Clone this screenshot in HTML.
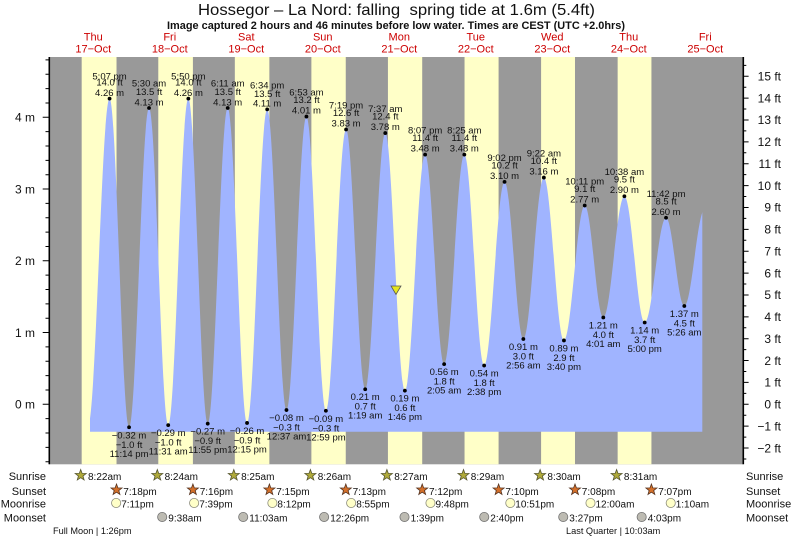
<!DOCTYPE html>
<html><head><meta charset="utf-8"><style>
html,body{margin:0;padding:0;background:#fff;}
svg{display:block;font-family:"Liberation Sans",Arial,sans-serif;}
.l{font-size:9.5px;fill:#111;text-anchor:middle;}
.t{font-size:10px;fill:#111;}
.r{font-size:11px;fill:#111;}
.ax{font-size:12px;fill:#111;}
.d{font-size:11px;fill:#cc0000;text-anchor:middle;}
</style></head><body>
<svg width="793" height="539" viewBox="0 0 793 539" xmlns="http://www.w3.org/2000/svg">
<defs>
<clipPath id="cp"><rect x="90" y="50" width="612.3" height="382"/></clipPath>
<polygon id="star" points="0,-5.8 1.41,-1.94 5.52,-1.79 2.28,0.74 3.41,4.69 0,2.4 -3.41,4.69 -2.28,0.74 -5.52,-1.79 -1.41,-1.94"/>
</defs>
<rect width="793" height="539" fill="#fff"/>
<!-- title -->
<text x="198" y="15" font-size="16" fill="#111" textLength="397" lengthAdjust="spacingAndGlyphs" xml:space="preserve">Hossegor – La Nord: falling  spring tide at 1.6m (5.4ft)</text>
<text x="167" y="29" font-size="11" font-weight="bold" fill="#111" textLength="458" lengthAdjust="spacingAndGlyphs">Image captured 2 hours and 46 minutes before low water. Times are CEST (UTC +2.0hrs)</text>
<!-- day labels -->
<text class="d" x="93.25" y="40.5">Thu</text><text class="d" x="93.25" y="52.5">17−Oct</text>
<text class="d" x="169.75" y="40.5">Fri</text><text class="d" x="169.75" y="52.5">18−Oct</text>
<text class="d" x="246.25" y="40.5">Sat</text><text class="d" x="246.25" y="52.5">19−Oct</text>
<text class="d" x="322.75" y="40.5">Sun</text><text class="d" x="322.75" y="52.5">20−Oct</text>
<text class="d" x="399.25" y="40.5">Mon</text><text class="d" x="399.25" y="52.5">21−Oct</text>
<text class="d" x="475.75" y="40.5">Tue</text><text class="d" x="475.75" y="52.5">22−Oct</text>
<text class="d" x="552.25" y="40.5">Wed</text><text class="d" x="552.25" y="52.5">23−Oct</text>
<text class="d" x="628.75" y="40.5">Thu</text><text class="d" x="628.75" y="52.5">24−Oct</text>
<text class="d" x="705.25" y="40.5">Fri</text><text class="d" x="705.25" y="52.5">25−Oct</text>
<!-- plot background -->
<rect x="49.3" y="57" width="694" height="407.3" fill="#999999"/>
<g fill="#ffffc8">
<rect x="81.67" y="57" width="34.85" height="407.3"/>
<rect x="158.28" y="57" width="34.63" height="407.3"/>
<rect x="234.83" y="57" width="34.53" height="407.3"/>
<rect x="311.38" y="57" width="34.37" height="407.3"/>
<rect x="387.93" y="57" width="34.27" height="407.3"/>
<rect x="464.54" y="57" width="34.05" height="407.3"/>
<rect x="541.09" y="57" width="33.9" height="407.3"/>
<rect x="617.65" y="57" width="33.78" height="407.3"/>
</g>
<!-- tide fill -->
<path clip-path="url(#cp)" fill="#a0b4ff" d="M87.94,425.83
C95.80,425.83 101.70,98.64 109.56,98.64
C116.65,98.64 121.97,427.26 129.06,427.26
C136.32,427.26 141.77,107.97 149.03,107.97
C156.00,107.97 161.24,425.11 168.21,425.11
C175.53,425.11 181.02,98.64 188.34,98.64
C195.39,98.64 200.68,423.67 207.73,423.67
C214.99,423.67 220.45,107.97 227.71,107.97
C234.74,107.97 240.02,422.96 247.05,422.96
C254.37,422.96 259.86,109.41 267.18,109.41
C274.19,109.41 279.46,410.04 286.47,410.04
C293.73,410.04 299.18,116.58 306.44,116.58
C313.50,116.58 318.82,410.76 325.88,410.76
C333.22,410.76 338.73,129.50 346.07,129.50
C353.02,129.50 358.25,389.23 365.20,389.23
C372.50,389.23 377.98,133.08 385.28,133.08
C392.40,133.08 397.76,390.67 404.88,390.67
C412.24,390.67 417.76,154.61 425.12,154.61
C432.03,154.61 437.23,364.12 444.14,364.12
C451.48,364.12 456.99,154.61 464.33,154.61
C471.53,154.61 476.94,365.56 484.14,365.56
C491.55,365.56 497.13,181.87 504.54,181.87
C511.38,181.87 516.51,339.01 523.35,339.01
C530.80,339.01 536.41,177.57 543.86,177.57
C551.16,177.57 556.64,340.44 563.94,340.44
C571.49,340.44 577.16,205.55 584.71,205.55
C591.47,205.55 596.54,317.48 603.30,317.48
C610.96,317.48 616.73,196.22 624.39,196.22
C631.77,196.22 637.31,322.51 644.69,322.51
C652.45,322.51 658.28,217.75 666.04,217.75
C672.68,217.75 677.68,306.00 684.32,306.00
C691.73,306.00 697.31,209.14 704.72,209.14
L704.72,431.7 L87.94,431.7 Z"/>
<!-- axes -->
<line x1="49.3" y1="57" x2="49.3" y2="464.3" stroke="#000" stroke-width="1.6"/>
<line x1="743.3" y1="57" x2="743.3" y2="464.3" stroke="#000" stroke-width="1.6"/>
<path stroke="#000" stroke-width="1" fill="none" d="M45.5,461.7H49.3M45.5,447.35H49.3M45.5,433H49.3M45.5,418.65H49.3M42.7,404.3H49.3M45.5,389.95H49.3M45.5,375.6H49.3M45.5,361.25H49.3M45.5,346.9H49.3M42.7,332.55H49.3M45.5,318.2H49.3M45.5,303.85H49.3M45.5,289.5H49.3M45.5,275.15H49.3M42.7,260.8H49.3M45.5,246.45H49.3M45.5,232.1H49.3M45.5,217.75H49.3M45.5,203.4H49.3M42.7,189.05H49.3M45.5,174.7H49.3M45.5,160.35H49.3M45.5,146H49.3M45.5,131.65H49.3M42.7,117.3H49.3M45.5,102.95H49.3M45.5,88.6H49.3M45.5,74.25H49.3M45.5,59.9H49.3"/>
<path stroke="#000" stroke-width="1" fill="none" d="M743.3,458.99h3M743.3,448.04h5.3M743.3,437.11h3M743.3,426.17h5.3M743.3,415.24h3M743.3,404.3h5.3M743.3,393.37h3M743.3,382.43h5.3M743.3,371.5h3M743.3,360.56h5.3M743.3,349.63h3M743.3,338.69h5.3M743.3,327.76h3M743.3,316.82h5.3M743.3,305.89h3M743.3,294.95h5.3M743.3,284.02h3M743.3,273.08h5.3M743.3,262.15h3M743.3,251.21h5.3M743.3,240.28h3M743.3,229.34h5.3M743.3,218.41h3M743.3,207.47h5.3M743.3,196.54h3M743.3,185.6h5.3M743.3,174.67h3M743.3,163.73h5.3M743.3,152.8h3M743.3,141.86h5.3M743.3,130.93h3M743.3,119.99h5.3M743.3,109.06h3M743.3,98.12h5.3M743.3,87.19h3M743.3,76.25h5.3M743.3,65.32h3"/>
<g class="ax" text-anchor="end">
<text x="35" y="408.5">0 m</text>
<text x="35" y="336.8">1 m</text>
<text x="35" y="265">2 m</text>
<text x="35" y="193.3">3 m</text>
<text x="35" y="121.5">4 m</text>
</g>
<g class="ax" text-anchor="end">
<text x="781" y="80.5">15 ft</text>
<text x="781" y="102.4">14 ft</text>
<text x="781" y="124.2">13 ft</text>
<text x="781" y="146.1">12 ft</text>
<text x="781" y="168">11 ft</text>
<text x="781" y="189.8">10 ft</text>
<text x="781" y="211.7">9 ft</text>
<text x="781" y="233.6">8 ft</text>
<text x="781" y="255.4">7 ft</text>
<text x="781" y="277.3">6 ft</text>
<text x="781" y="299.2">5 ft</text>
<text x="781" y="321">4 ft</text>
<text x="781" y="342.9">3 ft</text>
<text x="781" y="364.8">2 ft</text>
<text x="781" y="386.6">1 ft</text>
<text x="781" y="408.5">0 ft</text>
<text x="781" y="430.4">−1 ft</text>
<text x="781" y="452.3">−2 ft</text>
</g>
<!-- extreme dots -->
<g fill="#000">
<circle cx="109.56" cy="98.64" r="1.9"/><circle cx="149.03" cy="107.97" r="1.9"/><circle cx="188.34" cy="98.64" r="1.9"/><circle cx="227.71" cy="107.97" r="1.9"/><circle cx="267.18" cy="109.41" r="1.9"/><circle cx="306.44" cy="116.58" r="1.9"/><circle cx="346.07" cy="129.5" r="1.9"/><circle cx="385.28" cy="133.08" r="1.9"/><circle cx="425.12" cy="154.61" r="1.9"/><circle cx="464.33" cy="154.61" r="1.9"/><circle cx="504.54" cy="181.87" r="1.9"/><circle cx="543.86" cy="177.57" r="1.9"/><circle cx="584.71" cy="205.55" r="1.9"/><circle cx="624.39" cy="196.22" r="1.9"/><circle cx="666.04" cy="217.75" r="1.9"/>
<circle cx="129.06" cy="427.26" r="1.9"/><circle cx="168.21" cy="425.11" r="1.9"/><circle cx="207.73" cy="423.67" r="1.9"/><circle cx="247.05" cy="422.96" r="1.9"/><circle cx="286.47" cy="410.04" r="1.9"/><circle cx="325.88" cy="410.76" r="1.9"/><circle cx="365.2" cy="389.23" r="1.9"/><circle cx="404.88" cy="390.67" r="1.9"/><circle cx="444.14" cy="364.12" r="1.9"/><circle cx="484.14" cy="365.56" r="1.9"/><circle cx="523.35" cy="339.01" r="1.9"/><circle cx="563.94" cy="340.44" r="1.9"/><circle cx="603.3" cy="317.48" r="1.9"/><circle cx="644.69" cy="322.51" r="1.9"/><circle cx="684.32" cy="306" r="1.9"/>
</g>
<!-- high labels -->
<g class="l">
<text x="109.56" y="79.6">5:07 pm</text><text x="109.56" y="85.6">14.0 ft</text><text x="109.56" y="95.8">4.26 m</text>
<text x="149.03" y="86.5">5:30 am</text><text x="149.03" y="95">13.5 ft</text><text x="149.03" y="105.5">4.13 m</text>
<text x="188.34" y="79.6">5:50 pm</text><text x="188.34" y="85.6">14.0 ft</text><text x="188.34" y="95.8">4.26 m</text>
<text x="227.71" y="86.5">6:11 am</text><text x="227.71" y="95">13.5 ft</text><text x="227.71" y="105.5">4.13 m</text>
<text x="267.18" y="88.4">6:34 pm</text><text x="267.18" y="96.9">13.5 ft</text><text x="267.18" y="106.4">4.11 m</text>
<text x="306.44" y="95.6">6:53 am</text><text x="306.44" y="103.1">13.2 ft</text><text x="306.44" y="113.6">4.01 m</text>
<text x="346.07" y="108.5">7:19 pm</text><text x="346.07" y="116">12.6 ft</text><text x="346.07" y="126.5">3.83 m</text>
<text x="385.28" y="112.1">7:37 am</text><text x="385.28" y="119.6">12.4 ft</text><text x="385.28" y="130.1">3.78 m</text>
<text x="425.12" y="133.6">8:07 pm</text><text x="425.12" y="141.1">11.4 ft</text><text x="425.12" y="151.6">3.48 m</text>
<text x="464.33" y="133.6">8:25 am</text><text x="464.33" y="141.1">11.4 ft</text><text x="464.33" y="151.6">3.48 m</text>
<text x="504.54" y="160.9">9:02 pm</text><text x="504.54" y="168.4">10.2 ft</text><text x="504.54" y="178.9">3.10 m</text>
<text x="543.86" y="156.6">9:22 am</text><text x="543.86" y="164.1">10.4 ft</text><text x="543.86" y="174.6">3.16 m</text>
<text x="584.71" y="184.6">10:11 pm</text><text x="584.71" y="192.1">9.1 ft</text><text x="584.71" y="202.6">2.77 m</text>
<text x="624.39" y="175.2">10:38 am</text><text x="624.39" y="182.7">9.5 ft</text><text x="624.39" y="193.2">2.90 m</text>
<text x="666.04" y="196.8">11:42 pm</text><text x="666.04" y="204.3">8.5 ft</text><text x="666.04" y="214.8">2.60 m</text>
</g>
<!-- low labels -->
<g class="l">
<text x="129.06" y="438.3">−0.32 m</text><text x="129.06" y="447.8">−1.0 ft</text><text x="129.06" y="456.8">11:14 pm</text>
<text x="168.21" y="436.1">−0.29 m</text><text x="168.21" y="445.6">−1.0 ft</text><text x="168.21" y="454.6">11:31 am</text>
<text x="207.73" y="434.7">−0.27 m</text><text x="207.73" y="444.2">−0.9 ft</text><text x="207.73" y="453.2">11:55 pm</text>
<text x="247.05" y="434">−0.26 m</text><text x="247.05" y="443.5">−0.9 ft</text><text x="247.05" y="452.5">12:15 pm</text>
<text x="286.47" y="421">−0.08 m</text><text x="286.47" y="430.5">−0.3 ft</text><text x="286.47" y="439.5">12:37 am</text>
<text x="325.88" y="421.8">−0.09 m</text><text x="325.88" y="431.3">−0.3 ft</text><text x="325.88" y="440.3">12:59 pm</text>
<text x="365.2" y="400.2">0.21 m</text><text x="365.2" y="409.7">0.7 ft</text><text x="365.2" y="418.7">1:19 am</text>
<text x="404.88" y="401.7">0.19 m</text><text x="404.88" y="411.2">0.6 ft</text><text x="404.88" y="420.2">1:46 pm</text>
<text x="444.14" y="375.1">0.56 m</text><text x="444.14" y="384.6">1.8 ft</text><text x="444.14" y="393.6">2:05 am</text>
<text x="484.14" y="376.6">0.54 m</text><text x="484.14" y="386.1">1.8 ft</text><text x="484.14" y="395.1">2:38 pm</text>
<text x="523.35" y="350">0.91 m</text><text x="523.35" y="359.5">3.0 ft</text><text x="523.35" y="368.5">2:56 am</text>
<text x="563.94" y="351.4">0.89 m</text><text x="563.94" y="360.9">2.9 ft</text><text x="563.94" y="369.9">3:40 pm</text>
<text x="603.3" y="328.5">1.21 m</text><text x="603.3" y="338">4.0 ft</text><text x="603.3" y="347">4:01 am</text>
<text x="644.69" y="333.5">1.14 m</text><text x="644.69" y="343">3.7 ft</text><text x="644.69" y="352">5:00 pm</text>
<text x="684.32" y="317">1.37 m</text><text x="684.32" y="326.5">4.5 ft</text><text x="684.32" y="335.5">5:26 am</text>
</g>
<!-- current marker -->
<polygon points="391,286 401,286 396,294.5" fill="#e6e61e" stroke="#555" stroke-width="0.8"/>
<!-- bottom rows -->
<g class="r" text-anchor="end">
<text x="46" y="480">Sunrise</text>
<text x="46" y="495">Sunset</text>
<text x="46" y="507.7">Moonrise</text>
<text x="46" y="521.5">Moonset</text>
</g>
<g class="r">
<text x="746" y="480">Sunrise</text>
<text x="746" y="495">Sunset</text>
<text x="746" y="507.7">Moonrise</text>
<text x="746" y="521.5">Moonset</text>
</g>
<g fill="#b0aa3a" stroke="#555530" stroke-width="0.8">
<use href="#star" x="80.7" y="475.3"/><use href="#star" x="157.3" y="475.3"/><use href="#star" x="233.8" y="475.3"/><use href="#star" x="310.4" y="475.3"/><use href="#star" x="386.9" y="475.3"/><use href="#star" x="463.5" y="475.3"/><use href="#star" x="540.1" y="475.3"/><use href="#star" x="616.6" y="475.3"/>
</g>
<g fill="#d4702a" stroke="#553320" stroke-width="0.8">
<use href="#star" x="116.5" y="489.8"/><use href="#star" x="192.9" y="489.8"/><use href="#star" x="269.4" y="489.8"/><use href="#star" x="345.8" y="489.8"/><use href="#star" x="422.2" y="489.8"/><use href="#star" x="498.6" y="489.8"/><use href="#star" x="575" y="489.8"/><use href="#star" x="651.4" y="489.8"/>
</g>
<g fill="#ffffc8" stroke="#8a8a7a" stroke-width="0.8">
<circle cx="116.15" cy="503" r="4.6"/><circle cx="194.14" cy="503" r="4.6"/><circle cx="272.39" cy="503" r="4.6"/><circle cx="351.17" cy="503" r="4.6"/><circle cx="430.49" cy="503" r="4.6"/><circle cx="510.33" cy="503" r="4.6"/><circle cx="590.5" cy="503" r="4.6"/><circle cx="670.72" cy="503" r="4.6"/>
</g>
<g fill="#bdbbb2" stroke="#707070" stroke-width="0.8">
<circle cx="162.21" cy="517" r="4.6"/><circle cx="243.22" cy="517" r="4.6"/><circle cx="324.13" cy="517" r="4.6"/><circle cx="404.51" cy="517" r="4.6"/><circle cx="484.25" cy="517" r="4.6"/><circle cx="563.25" cy="517" r="4.6"/><circle cx="641.66" cy="517" r="4.6"/>
</g>
<g class="t">
<text x="88" y="480">8:22am</text><text x="164.6" y="480">8:24am</text><text x="241.1" y="480">8:25am</text><text x="317.7" y="480">8:26am</text><text x="394.2" y="480">8:27am</text><text x="470.8" y="480">8:29am</text><text x="547.4" y="480">8:30am</text><text x="623.9" y="480">8:31am</text>
<text x="123.3" y="495">7:18pm</text><text x="199.7" y="495">7:16pm</text><text x="276.2" y="495">7:15pm</text><text x="352.6" y="495">7:13pm</text><text x="429" y="495">7:12pm</text><text x="505.4" y="495">7:10pm</text><text x="581.8" y="495">7:08pm</text><text x="658.2" y="495">7:07pm</text>
<text x="121.2" y="507.7">7:11pm</text><text x="199.2" y="507.7">7:39pm</text><text x="277.4" y="507.7">8:12pm</text><text x="356.2" y="507.7">8:55pm</text><text x="435.5" y="507.7">9:48pm</text><text x="515.3" y="507.7">10:51pm</text><text x="595.5" y="507.7">12:00am</text><text x="675.7" y="507.7">1:10am</text>
<text x="168.3" y="521.5">9:38am</text><text x="249.3" y="521.5">11:03am</text><text x="330.2" y="521.5">12:26pm</text><text x="410.6" y="521.5">1:39pm</text><text x="490.3" y="521.5">2:40pm</text><text x="569.3" y="521.5">3:27pm</text><text x="647.7" y="521.5">4:03pm</text>
</g>
<text x="53" y="534" font-size="9.2" fill="#111">Full Moon | 1:26pm</text>
<text x="566" y="534" font-size="9.2" fill="#111">Last Quarter | 10:03am</text>
</svg>
</body></html>
